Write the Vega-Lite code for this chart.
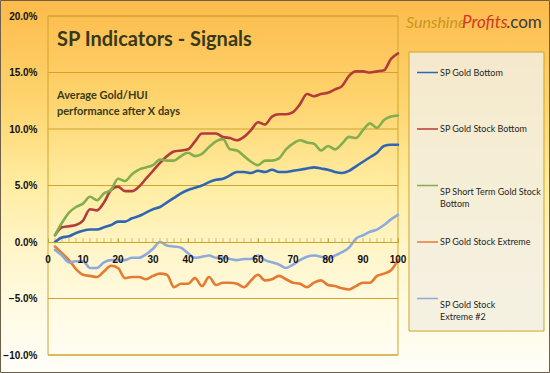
{
  "$schema": "https://vega.github.io/schema/vega-lite/v6.json",
  "width": 350,
  "height": 339,
  "autosize": {"type": "none"},
  "padding": {"left": 48, "top": 16, "right": 152, "bottom": 18},
  "background": "#FFFFFF",
  "config": {"view": {"stroke": null}, "legend": {"disable": true}},
  "datasets": {
    "series": [
      {"day": 2, "SP Gold Bottom": 0.0, "SP Gold Stock Bottom": 0.6, "SP Short Term Gold Stock Bottom": 0.6, "SP Gold Stock Extreme": -0.4, "SP Gold Stock Extreme #2": -0.7},
      {"day": 4, "SP Gold Bottom": 0.4, "SP Gold Stock Bottom": 1.3, "SP Short Term Gold Stock Bottom": 1.7, "SP Gold Stock Extreme": -1.0, "SP Gold Stock Extreme #2": -1.2},
      {"day": 6, "SP Gold Bottom": 0.5, "SP Gold Stock Bottom": 1.4, "SP Short Term Gold Stock Bottom": 2.6, "SP Gold Stock Extreme": -1.6, "SP Gold Stock Extreme #2": -1.8},
      {"day": 8, "SP Gold Bottom": 0.8, "SP Gold Stock Bottom": 1.5, "SP Short Term Gold Stock Bottom": 3.1, "SP Gold Stock Extreme": -2.4, "SP Gold Stock Extreme #2": -1.7},
      {"day": 10, "SP Gold Bottom": 1.0, "SP Gold Stock Bottom": 1.9, "SP Short Term Gold Stock Bottom": 3.4, "SP Gold Stock Extreme": -2.9, "SP Gold Stock Extreme #2": -1.7},
      {"day": 12, "SP Gold Bottom": 1.1, "SP Gold Stock Bottom": 2.9, "SP Short Term Gold Stock Bottom": 4.0, "SP Gold Stock Extreme": -3.0, "SP Gold Stock Extreme #2": -2.3},
      {"day": 14, "SP Gold Bottom": 1.1, "SP Gold Stock Bottom": 2.8, "SP Short Term Gold Stock Bottom": 3.7, "SP Gold Stock Extreme": -3.1, "SP Gold Stock Extreme #2": -2.3},
      {"day": 16, "SP Gold Bottom": 1.3, "SP Gold Stock Bottom": 3.5, "SP Short Term Gold Stock Bottom": 4.3, "SP Gold Stock Extreme": -2.6, "SP Gold Stock Extreme #2": -1.8},
      {"day": 18, "SP Gold Bottom": 1.5, "SP Gold Stock Bottom": 4.6, "SP Short Term Gold Stock Bottom": 4.6, "SP Gold Stock Extreme": -2.1, "SP Gold Stock Extreme #2": -1.6},
      {"day": 20, "SP Gold Bottom": 1.8, "SP Gold Stock Bottom": 4.9, "SP Short Term Gold Stock Bottom": 5.6, "SP Gold Stock Extreme": -2.3, "SP Gold Stock Extreme #2": -1.6},
      {"day": 22, "SP Gold Bottom": 1.8, "SP Gold Stock Bottom": 4.5, "SP Short Term Gold Stock Bottom": 5.4, "SP Gold Stock Extreme": -3.2, "SP Gold Stock Extreme #2": -1.6},
      {"day": 24, "SP Gold Bottom": 2.1, "SP Gold Stock Bottom": 4.5, "SP Short Term Gold Stock Bottom": 6.0, "SP Gold Stock Extreme": -3.1, "SP Gold Stock Extreme #2": -1.4},
      {"day": 26, "SP Gold Bottom": 2.3, "SP Gold Stock Bottom": 4.9, "SP Short Term Gold Stock Bottom": 6.4, "SP Gold Stock Extreme": -3.1, "SP Gold Stock Extreme #2": -1.4},
      {"day": 28, "SP Gold Bottom": 2.6, "SP Gold Stock Bottom": 5.6, "SP Short Term Gold Stock Bottom": 6.6, "SP Gold Stock Extreme": -3.3, "SP Gold Stock Extreme #2": -1.1},
      {"day": 30, "SP Gold Bottom": 2.9, "SP Gold Stock Bottom": 6.3, "SP Short Term Gold Stock Bottom": 6.8, "SP Gold Stock Extreme": -3.0, "SP Gold Stock Extreme #2": -0.6},
      {"day": 32, "SP Gold Bottom": 3.1, "SP Gold Stock Bottom": 7.0, "SP Short Term Gold Stock Bottom": 7.3, "SP Gold Stock Extreme": -2.8, "SP Gold Stock Extreme #2": 0.0},
      {"day": 34, "SP Gold Bottom": 3.5, "SP Gold Stock Bottom": 7.6, "SP Short Term Gold Stock Bottom": 7.2, "SP Gold Stock Extreme": -2.9, "SP Gold Stock Extreme #2": -0.3},
      {"day": 36, "SP Gold Bottom": 3.9, "SP Gold Stock Bottom": 8.0, "SP Short Term Gold Stock Bottom": 7.2, "SP Gold Stock Extreme": -4.0, "SP Gold Stock Extreme #2": -0.4},
      {"day": 38, "SP Gold Bottom": 4.3, "SP Gold Stock Bottom": 8.1, "SP Short Term Gold Stock Bottom": 7.6, "SP Gold Stock Extreme": -3.7, "SP Gold Stock Extreme #2": -0.5},
      {"day": 40, "SP Gold Bottom": 4.6, "SP Gold Stock Bottom": 8.2, "SP Short Term Gold Stock Bottom": 7.9, "SP Gold Stock Extreme": -3.7, "SP Gold Stock Extreme #2": -1.0},
      {"day": 42, "SP Gold Bottom": 4.8, "SP Gold Stock Bottom": 8.9, "SP Short Term Gold Stock Bottom": 7.6, "SP Gold Stock Extreme": -3.2, "SP Gold Stock Extreme #2": -1.4},
      {"day": 44, "SP Gold Bottom": 5.0, "SP Gold Stock Bottom": 9.6, "SP Short Term Gold Stock Bottom": 7.8, "SP Gold Stock Extreme": -3.9, "SP Gold Stock Extreme #2": -1.3},
      {"day": 46, "SP Gold Bottom": 5.3, "SP Gold Stock Bottom": 9.6, "SP Short Term Gold Stock Bottom": 8.4, "SP Gold Stock Extreme": -3.1, "SP Gold Stock Extreme #2": -1.2},
      {"day": 48, "SP Gold Bottom": 5.5, "SP Gold Stock Bottom": 9.6, "SP Short Term Gold Stock Bottom": 8.9, "SP Gold Stock Extreme": -3.8, "SP Gold Stock Extreme #2": -1.4},
      {"day": 50, "SP Gold Bottom": 5.6, "SP Gold Stock Bottom": 9.3, "SP Short Term Gold Stock Bottom": 9.1, "SP Gold Stock Extreme": -3.6, "SP Gold Stock Extreme #2": -1.4},
      {"day": 52, "SP Gold Bottom": 5.9, "SP Gold Stock Bottom": 9.2, "SP Short Term Gold Stock Bottom": 8.2, "SP Gold Stock Extreme": -3.6, "SP Gold Stock Extreme #2": -1.5},
      {"day": 54, "SP Gold Bottom": 6.2, "SP Gold Stock Bottom": 9.0, "SP Short Term Gold Stock Bottom": 8.1, "SP Gold Stock Extreme": -3.7, "SP Gold Stock Extreme #2": -1.6},
      {"day": 56, "SP Gold Bottom": 6.2, "SP Gold Stock Bottom": 9.3, "SP Short Term Gold Stock Bottom": 7.6, "SP Gold Stock Extreme": -4.0, "SP Gold Stock Extreme #2": -1.5},
      {"day": 58, "SP Gold Bottom": 6.1, "SP Gold Stock Bottom": 9.9, "SP Short Term Gold Stock Bottom": 7.1, "SP Gold Stock Extreme": -3.4, "SP Gold Stock Extreme #2": -1.5},
      {"day": 60, "SP Gold Bottom": 6.3, "SP Gold Stock Bottom": 10.6, "SP Short Term Gold Stock Bottom": 6.8, "SP Gold Stock Extreme": -2.9, "SP Gold Stock Extreme #2": -1.2},
      {"day": 62, "SP Gold Bottom": 6.2, "SP Gold Stock Bottom": 10.4, "SP Short Term Gold Stock Bottom": 7.2, "SP Gold Stock Extreme": -3.4, "SP Gold Stock Extreme #2": -1.6},
      {"day": 64, "SP Gold Bottom": 6.4, "SP Gold Stock Bottom": 11.1, "SP Short Term Gold Stock Bottom": 7.2, "SP Gold Stock Extreme": -3.3, "SP Gold Stock Extreme #2": -1.8},
      {"day": 66, "SP Gold Bottom": 6.2, "SP Gold Stock Bottom": 11.3, "SP Short Term Gold Stock Bottom": 7.4, "SP Gold Stock Extreme": -3.0, "SP Gold Stock Extreme #2": -2.0},
      {"day": 68, "SP Gold Bottom": 6.2, "SP Gold Stock Bottom": 11.3, "SP Short Term Gold Stock Bottom": 8.2, "SP Gold Stock Extreme": -3.3, "SP Gold Stock Extreme #2": -2.3},
      {"day": 70, "SP Gold Bottom": 6.3, "SP Gold Stock Bottom": 11.5, "SP Short Term Gold Stock Bottom": 8.7, "SP Gold Stock Extreme": -3.6, "SP Gold Stock Extreme #2": -2.0},
      {"day": 72, "SP Gold Bottom": 6.4, "SP Gold Stock Bottom": 12.2, "SP Short Term Gold Stock Bottom": 9.0, "SP Gold Stock Extreme": -3.7, "SP Gold Stock Extreme #2": -1.6},
      {"day": 74, "SP Gold Bottom": 6.5, "SP Gold Stock Bottom": 13.1, "SP Short Term Gold Stock Bottom": 8.8, "SP Gold Stock Extreme": -4.0, "SP Gold Stock Extreme #2": -1.3},
      {"day": 76, "SP Gold Bottom": 6.6, "SP Gold Stock Bottom": 12.9, "SP Short Term Gold Stock Bottom": 8.7, "SP Gold Stock Extreme": -3.6, "SP Gold Stock Extreme #2": -1.2},
      {"day": 78, "SP Gold Bottom": 6.5, "SP Gold Stock Bottom": 13.1, "SP Short Term Gold Stock Bottom": 8.1, "SP Gold Stock Extreme": -3.4, "SP Gold Stock Extreme #2": -1.3},
      {"day": 80, "SP Gold Bottom": 6.4, "SP Gold Stock Bottom": 13.2, "SP Short Term Gold Stock Bottom": 8.5, "SP Gold Stock Extreme": -3.8, "SP Gold Stock Extreme #2": -1.5},
      {"day": 82, "SP Gold Bottom": 6.2, "SP Gold Stock Bottom": 13.5, "SP Short Term Gold Stock Bottom": 8.2, "SP Gold Stock Extreme": -3.9, "SP Gold Stock Extreme #2": -1.2},
      {"day": 84, "SP Gold Bottom": 6.1, "SP Gold Stock Bottom": 13.8, "SP Short Term Gold Stock Bottom": 8.7, "SP Gold Stock Extreme": -4.1, "SP Gold Stock Extreme #2": -0.9},
      {"day": 86, "SP Gold Bottom": 6.3, "SP Gold Stock Bottom": 14.7, "SP Short Term Gold Stock Bottom": 9.3, "SP Gold Stock Extreme": -4.2, "SP Gold Stock Extreme #2": -0.5},
      {"day": 88, "SP Gold Bottom": 6.7, "SP Gold Stock Bottom": 15.1, "SP Short Term Gold Stock Bottom": 9.2, "SP Gold Stock Extreme": -3.9, "SP Gold Stock Extreme #2": 0.3},
      {"day": 90, "SP Gold Bottom": 7.1, "SP Gold Stock Bottom": 15.1, "SP Short Term Gold Stock Bottom": 9.9, "SP Gold Stock Extreme": -3.6, "SP Gold Stock Extreme #2": 0.6},
      {"day": 92, "SP Gold Bottom": 7.5, "SP Gold Stock Bottom": 15.0, "SP Short Term Gold Stock Bottom": 10.5, "SP Gold Stock Extreme": -3.6, "SP Gold Stock Extreme #2": 0.9},
      {"day": 94, "SP Gold Bottom": 7.9, "SP Gold Stock Bottom": 15.1, "SP Short Term Gold Stock Bottom": 10.1, "SP Gold Stock Extreme": -3.0, "SP Gold Stock Extreme #2": 1.1},
      {"day": 96, "SP Gold Bottom": 8.5, "SP Gold Stock Bottom": 15.2, "SP Short Term Gold Stock Bottom": 10.8, "SP Gold Stock Extreme": -2.8, "SP Gold Stock Extreme #2": 1.5},
      {"day": 98, "SP Gold Bottom": 8.6, "SP Gold Stock Bottom": 16.2, "SP Short Term Gold Stock Bottom": 11.1, "SP Gold Stock Extreme": -2.5, "SP Gold Stock Extreme #2": 2.0},
      {"day": 100, "SP Gold Bottom": 8.6, "SP Gold Stock Bottom": 16.7, "SP Short Term Gold Stock Bottom": 11.2, "SP Gold Stock Extreme": -1.6, "SP Gold Stock Extreme #2": 2.4}
    ]
  },
  "layer": [
    {
      "data": {"values": [{}]},
      "mark": {
        "type": "rect",
        "stroke": "#6E6048",
        "strokeWidth": 1,
        "fill": {
          "gradient": "linear", "x1": 0, "y1": 0, "x2": 0, "y2": 1,
          "stops": [
            {"offset": 0, "color": "#FDBB4B"},
            {"offset": 0.27, "color": "#FED46E"},
            {"offset": 0.5, "color": "#FFEDA2"},
            {"offset": 0.67, "color": "#FFF5C8"},
            {"offset": 0.8, "color": "#FFFADF"},
            {"offset": 1, "color": "#FFFEF8"}
          ]
        }
      },
      "encoding": {
        "x": {
          "datum": -13.571, "type": "quantitative",
          "scale": {"domain": [0, 100], "nice": false, "zero": false},
          "axis": {
            "orient": "bottom", "offset": -113, "title": null, "grid": false, "zindex": 1,
            "values": [0, 10, 20, 30, 40, 50, 60, 70, 80, 90, 100],
            "domainColor": "#C9A22A", "domainWidth": 1,
            "tickColor": "#C9A22A", "tickSize": -4, "tickWidth": 1,
            "labels": false
          }
        },
        "x2": {"datum": 143.286},
        "y": {
          "datum": 21.372, "type": "quantitative",
          "scale": {"domain": [-10, 20], "nice": false, "zero": false},
          "axis": {
            "orient": "left", "title": null, "grid": false, "zindex": 1, "domain": false, "ticks": false,
            "values": [-10, -5, 0, 5, 10, 15, 20],
            "labelExpr": "format(datum.value, '.1f') + '%'",
            "labelFont": "Liberation Sans", "labelFontWeight": "bold", "labelFontSize": 10, "labelColor": "#111111",
            "labelPadding": 11
          }
        },
        "y2": {"datum": -11.549}
      }
    },
    {
      "data": {"values": [{"g": -10}, {"g": -5}, {"g": 5}, {"g": 10}, {"g": 15}, {"g": 20}]},
      "mark": {"type": "rule", "color": "#CFA42C", "strokeWidth": 1},
      "encoding": {"y": {"field": "g", "type": "quantitative"}}
    },
    {
      "data": {"values": [{}]},
      "layer": [
        {
          "mark": {"type": "rect", "fill": null, "stroke": "#CFA42C", "strokeWidth": 1},
          "encoding": {"x": {"datum": 0}, "x2": {"datum": 100}, "y": {"datum": 20}, "y2": {"datum": -10}}
        },
        {
          "mark": {"type": "rect", "fill": "#F3EEE0", "fillOpacity": 0.85, "stroke": "#CFA42C", "strokeWidth": 1},
          "encoding": {"x": {"datum": 103.14}, "x2": {"datum": 141.71}, "y": {"datum": 16.81}, "y2": {"datum": -7.88}}
        }
      ]
    },
    {
      "data": {"name": "series"},
      "mark": {"type": "tick", "orient": "vertical", "size": 4, "thickness": 1, "color": "#C9A22A", "yOffset": -2},
      "encoding": {
        "x": {"field": "day", "type": "quantitative"},
        "y": {"datum": 0}
      }
    },
    {
      "data": {"name": "series"},
      "transform": [
        {"fold": ["SP Gold Bottom", "SP Gold Stock Bottom", "SP Short Term Gold Stock Bottom", "SP Gold Stock Extreme", "SP Gold Stock Extreme #2"], "as": ["series", "value"]}
      ],
      "mark": {"type": "line", "strokeWidth": 2.6, "interpolate": "monotone", "strokeCap": "round", "strokeJoin": "round"},
      "encoding": {
        "x": {"field": "day", "type": "quantitative"},
        "y": {"field": "value", "type": "quantitative"},
        "color": {
          "field": "series", "type": "nominal",
          "scale": {
            "domain": ["SP Gold Bottom", "SP Gold Stock Bottom", "SP Short Term Gold Stock Bottom", "SP Gold Stock Extreme", "SP Gold Stock Extreme #2"],
            "range": ["#2F66B4", "#B33B3B", "#82AE4E", "#E47B33", "#8EAADC"]
          },
          "legend": null
        },
        "detail": {"field": "series"}
      }
    },
    {
      "data": {"values": [{"d": 0}, {"d": 10}, {"d": 20}, {"d": 30}, {"d": 40}, {"d": 50}, {"d": 60}, {"d": 70}, {"d": 80}, {"d": 90}, {"d": 100}]},
      "mark": {"type": "text", "align": "center", "baseline": "middle", "dy": 18, "font": "Liberation Sans", "fontWeight": "bold", "fontSize": 10, "color": "#111111"},
      "encoding": {
        "x": {"field": "d", "type": "quantitative"},
        "y": {"datum": 0},
        "text": {"field": "d", "type": "quantitative"}
      }
    },
    {
      "data": {"values": [{}]},
      "layer": [
        {
          "mark": {"type": "rule", "strokeWidth": 1.5},
          "encoding": {"x": {"datum": 105.43}, "x2": {"datum": 111.43}, "y": {"datum": 15}, "color": {"datum": "SP Gold Bottom", "type": "nominal"}}
        },
        {
          "mark": {"type": "rule", "strokeWidth": 1.5},
          "encoding": {"x": {"datum": 105.43}, "x2": {"datum": 111.43}, "y": {"datum": 10}, "color": {"datum": "SP Gold Stock Bottom", "type": "nominal"}}
        },
        {
          "mark": {"type": "rule", "strokeWidth": 1.5},
          "encoding": {"x": {"datum": 105.43}, "x2": {"datum": 111.43}, "y": {"datum": 5}, "color": {"datum": "SP Short Term Gold Stock Bottom", "type": "nominal"}}
        },
        {
          "mark": {"type": "rule", "strokeWidth": 1.5},
          "encoding": {"x": {"datum": 105.43}, "x2": {"datum": 111.43}, "y": {"datum": 0}, "color": {"datum": "SP Gold Stock Extreme", "type": "nominal"}}
        },
        {
          "mark": {"type": "rule", "strokeWidth": 1.5},
          "encoding": {"x": {"datum": 105.43}, "x2": {"datum": 111.43}, "y": {"datum": -5}, "color": {"datum": "SP Gold Stock Extreme #2", "type": "nominal"}}
        },
        {
          "mark": {"type": "text", "text": "SP Gold Bottom", "align": "left", "baseline": "middle", "font": "Lato", "fontSize": 9, "color": "#262626"},
          "encoding": {"x": {"datum": 112}, "y": {"datum": 15}}
        },
        {
          "mark": {"type": "text", "text": "SP Gold Stock Bottom", "align": "left", "baseline": "middle", "font": "Lato", "fontSize": 9, "color": "#262626"},
          "encoding": {"x": {"datum": 112}, "y": {"datum": 10}}
        },
        {
          "mark": {"type": "text", "text": ["SP Short Term Gold Stock", "Bottom"], "lineHeight": 12.5, "dy": 6, "align": "left", "baseline": "middle", "font": "Lato", "fontSize": 9, "color": "#262626"},
          "encoding": {"x": {"datum": 112}, "y": {"datum": 5}}
        },
        {
          "mark": {"type": "text", "text": "SP Gold Stock Extreme", "align": "left", "baseline": "middle", "font": "Lato", "fontSize": 9, "color": "#262626"},
          "encoding": {"x": {"datum": 112}, "y": {"datum": 0}}
        },
        {
          "mark": {"type": "text", "text": ["SP Gold Stock", "Extreme #2"], "lineHeight": 12.5, "dy": 6, "align": "left", "baseline": "middle", "font": "Lato", "fontSize": 9, "color": "#262626"},
          "encoding": {"x": {"datum": 112}, "y": {"datum": -5}}
        },
        {
          "mark": {"type": "text", "text": "SP Indicators - Signals", "align": "left", "baseline": "middle", "font": "Lato", "fontSize": 20, "fontWeight": "bold", "color": "#38381A"},
          "encoding": {"x": {"datum": 2.57}, "y": {"datum": 17.88}}
        },
        {
          "mark": {"type": "text", "text": ["Average Gold/HUI", "performance after X days"], "lineHeight": 16, "align": "left", "baseline": "middle", "font": "Lato", "fontSize": 11, "fontWeight": "bold", "color": "#3A3A1A"},
          "encoding": {"x": {"datum": 2.57}, "y": {"datum": 12.92}}
        },
        {
          "mark": {"type": "text", "text": "Sunshine", "align": "left", "baseline": "middle", "font": "Lato", "fontSize": 16, "fontStyle": "italic", "color": "#C9961E"},
          "encoding": {"x": {"datum": 102.3}, "y": {"datum": 19.4}}
        },
        {
          "mark": {"type": "text", "text": "Profits", "align": "left", "baseline": "middle", "font": "Lato", "fontSize": 17, "fontStyle": "italic", "color": "#D2382A"},
          "encoding": {"x": {"datum": 118.3}, "y": {"datum": 19.4}}
        },
        {
          "mark": {"type": "text", "text": ".com", "align": "left", "baseline": "middle", "font": "Lato", "fontSize": 17, "color": "#3A3A3A"},
          "encoding": {"x": {"datum": 130.9}, "y": {"datum": 19.4}}
        }
      ]
    }
  ]
}
